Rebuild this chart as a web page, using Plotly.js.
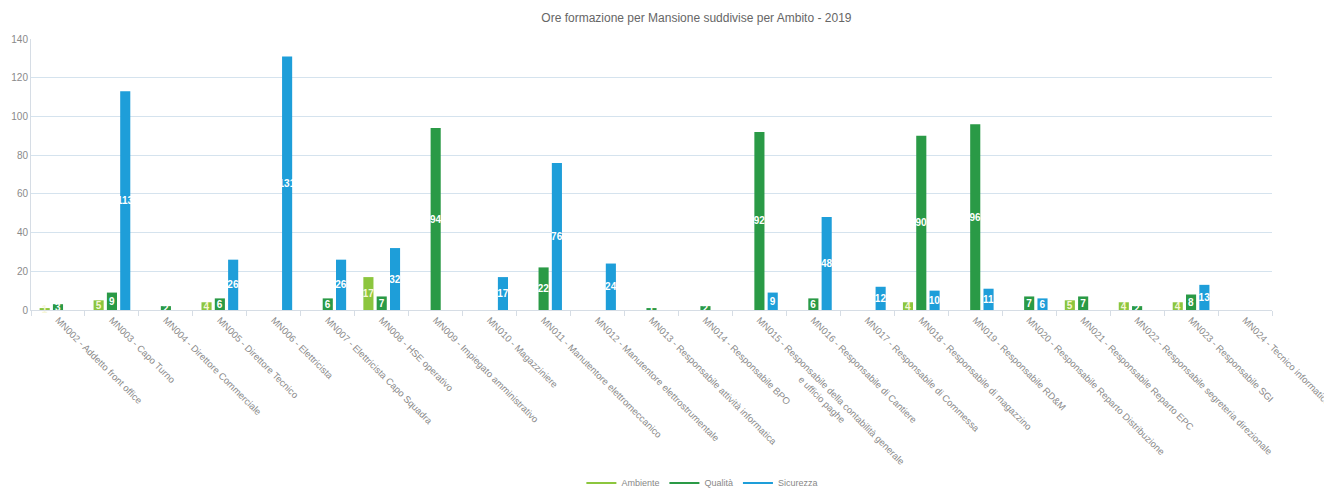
<!DOCTYPE html>
<html><head><meta charset="utf-8">
<script src="https://cdn.plot.ly/plotly-3.0.1.min.js"></script>
<style>body{margin:0;background:#fff}#c{width:1324px;height:488px}</style>
</head><body><div id="c"></div>
<script>
const NB = '\u00a0'.repeat(27);
const categories = [
  "MN002 - Addetto front office","MN003 - Capo Turno","MN004 - Direttore Commerciale",
  "MN005 - Direttore Tecnico","MN006 - Elettricista","MN007 - Elettricista Capo Squadra",
  "MN008 - HSE operativo","MN009 - Impiegato amministrativo","MN010 - Magazziniere",
  "MN011 - Manutentore elettromeccanico","MN012 - Manutentore elettrostrumentale",
  "MN013 - Responsabile attività informatica","MN014 - Responsabile BPO",
  "MN015 - Responsabile della contabilità generale<br>" + NB + "e ufficio paghe",
  "MN016 - Responsabile di Cantiere","MN017 - Responsabile di Commessa",
  "MN018 - Responsabile di magazzino","MN019 - Responsabile RD&M",
  "MN020 - Responsabile Reparto Distribuzione","MN021 - Responsabile Reparto EPC",
  "MN022 - Responsabile segreteria direzionale","MN023 - Responsabile SGI",
  "MN024 - Tecnico informatico"
];
const ambiente  = [1,5,null,4,null,null,17,null,null,null,null,null,null,null,null,null,4,null,null,5,4,4,null];
const qualita   = [3,9,2,6,null,6,7,94,null,22,null,1,2,92,6,null,90,96,7,7,2,8,null];
const sicurezza = [null,113,null,26,131,26,32,null,17,76,24,null,null,9,48,12,10,11,6,null,null,13,null];
const seriesNames = ["Ambiente","Qualità","Sicurezza"];
const colors = ["#8cc63e","#2a9a46","#1e9ed9"];
const labelColors = ["#f6f6d8","#ffffff","#ffffff"];
const yTicks = [0,20,40,60,80,100,120,140];

const vals = [ambiente, qualita, sicurezza];
const traces = [];
vals.forEach((v,i)=>{
  traces.push({
    type:'bar', x:categories, y:v, name:seriesNames[i], showlegend:false,
    marker:{color:colors[i]},
    text:v.map(d=>d==null?'':String(d)), textposition:'inside', insidetextanchor:'middle',
    textangle:0, constraintext:'none', cliponaxis:false,
    textfont:{color:labelColors[i], size:10, weight:'bold', family:'Liberation Sans, Arial, sans-serif'},
    hoverinfo:'x+y'
  });
});
vals.forEach((v,i)=>{
  traces.push({
    type:'scatter', mode:'lines', x:[null], y:[null], name:seriesNames[i],
    line:{color:colors[i], width:2}, showlegend:true, hoverinfo:'skip'
  });
});

const layout = {
  width:1324, height:488,
  margin:{l:31, r:52, t:39, b:178, autoexpand:false},
  paper_bgcolor:'#fff', plot_bgcolor:'#fff',
  title:{text:'Ore formazione per Mansione suddivise per Ambito - 2019',
    font:{size:12, color:'#666', family:'Liberation Sans, Arial, sans-serif'},
    x:0.526, xanchor:'center', y:0.963, yanchor:'middle'},
  barmode:'group', bargap:0.26, bargroupgap:0.24,
  font:{family:'Liberation Sans, Arial, sans-serif', color:'#888'},
  xaxis:{type:'category', tickangle:45, tickfont:{size:9.5, color:'#8a8a8a'},
    showline:true, linecolor:'#d6dde5', linewidth:1, ticks:'outside', tickson:'boundaries',
    ticklen:5, tickcolor:'#d6dde5', showgrid:false, automargin:false, fixedrange:true},
  yaxis:{range:[0,140], tickvals:yTicks, ticktext:yTicks.map(String),
    tickfont:{size:10, color:'#8a8a8a'}, showgrid:true, gridcolor:'#d5e3ee', gridwidth:1,
    showline:true, linecolor:'#d6dde5', zeroline:false, ticks:'', automargin:false, fixedrange:true},
  legend:{orientation:'h', x:0.541, xanchor:'center', y:-0.638, yanchor:'middle',
    font:{size:9, color:'#888'}, itemwidth:30, tracegroupgap:0}
};
Plotly.newPlot('c', traces, layout, {displayModeBar:false, staticPlot:true});
</script></body></html>
